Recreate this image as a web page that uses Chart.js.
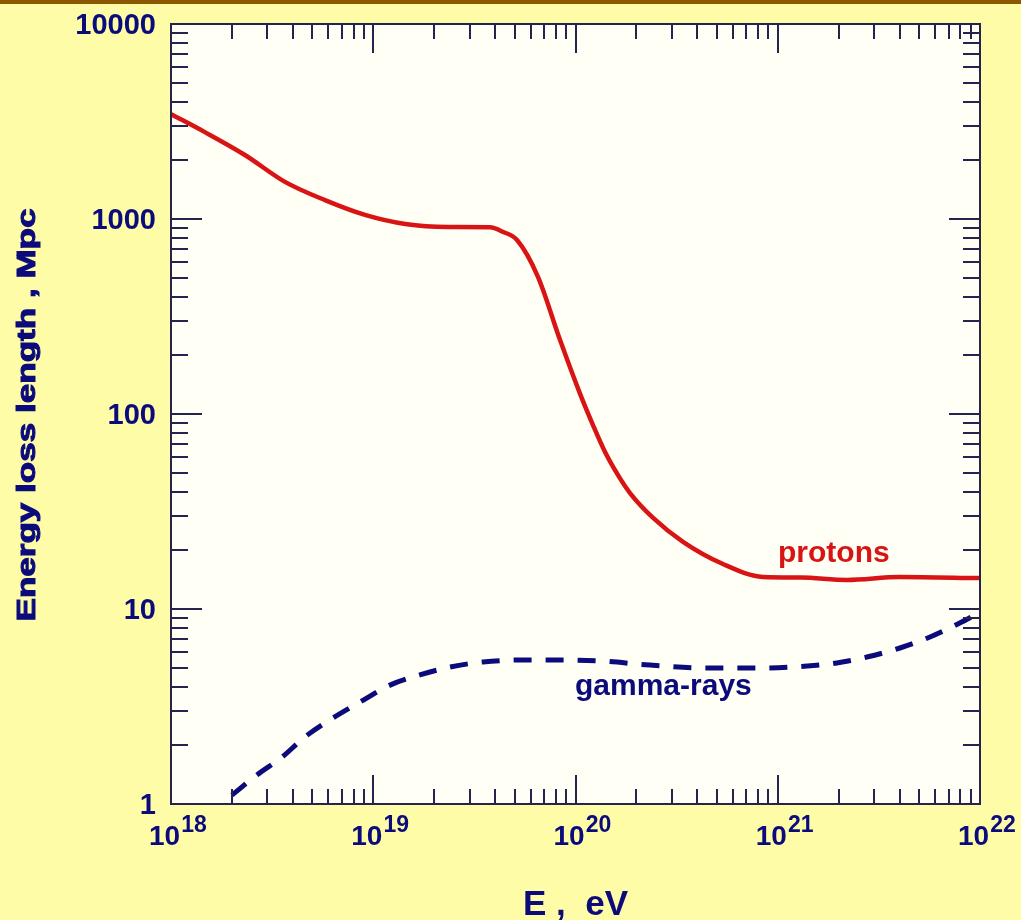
<!DOCTYPE html>
<html>
<head>
<meta charset="utf-8">
<title>Energy loss length</title>
<script src="https://cdn.jsdelivr.net/npm/chart.js@4/dist/chart.umd.min.js"></script>
<style>
  html, body { margin: 0; padding: 0; background: #fffca8; }
  canvas { display: block; }
</style>
</head>
<body>
<canvas id="lossChart" width="1021" height="920"></canvas>
<script>
// energy loss length (Mpc) against particle energy (eV)
const protonEnergy = [
  1.0e18, 1.47e18, 2.32e18, 3.66e18, 5.77e18, 9.10e18, 1.44e19, 2.34e19,
  3.78e19, 4.37e19, 5.14e19, 6.53e19, 8.38e19, 1.05e20, 1.22e20, 1.40e20,
  1.62e20, 1.86e20, 2.42e20, 3.40e20, 5.36e20, 8.45e20, 1.30e21, 2.20e21,
  4.00e21, 1.0e22
];
const protonLength = [
  3450, 2790, 2130, 1550, 1250, 1050, 943, 910,
  908, 860, 780, 504, 240, 128, 87.8, 63.8,
  48.7, 39.3, 29.3, 22.1, 17.0, 14.6, 14.5, 14.1,
  14.6, 14.4
];
const gammaEnergy = [
  2.0e18, 2.66e18, 3.54e18, 4.60e18, 6.31e18, 8.59e18, 1.21e19, 1.70e19,
  2.40e19, 3.49e19, 5.75e19, 1.32e20, 2.33e20, 4.47e20, 8.17e20, 1.40e21,
  1.96e21, 2.76e21, 4.02e21, 5.66e21, 7.94e21, 9.44e21
];
const gammaLength = [
  1.11, 1.41, 1.74, 2.21, 2.76, 3.33, 4.07, 4.59,
  5.04, 5.35, 5.48, 5.41, 5.16, 4.98, 4.98, 5.10,
  5.29, 5.67, 6.31, 7.18, 8.47, 9.31
];

// axis decades and their labels
const xDecades = [1e18, 1e19, 1e20, 1e21, 1e22];
const xExponents = ['18', '19', '20', '21', '22'];
const yDecades = [1, 10, 100, 1000, 10000];
const yTickLabels = ['1', '10', '100', '1000', '10000'];
const minorSteps = [2, 3, 4, 5, 6, 7, 8, 9];

const PAGE_BG = '#fffca8';
const PLOT_BG = '#fffff6';
const BAND = '#8b5800';
const AXIS = '#24244e';
const NAVY = '#0b0b7c';
const RED = '#d81414';
const FONT = '"Liberation Sans", Arial, Helvetica, sans-serif';

function toPoints(xs, ys) {
    return xs.map((x, i) => ({ x: x, y: ys[i] }));
}

/**
 * Background, inward tick marks, frame and all text.
 */
const framePlugin = {
    id: 'frame',
    beforeDraw(chart) {
        const { ctx, chartArea: a, width, height } = chart;
        ctx.save();
        ctx.fillStyle = PAGE_BG;
        ctx.fillRect(0, 0, width, height);
        ctx.fillStyle = BAND;
        ctx.fillRect(0, 0, width, 4);
        ctx.fillStyle = PLOT_BG;
        ctx.fillRect(a.left, a.top, a.right - a.left, a.bottom - a.top);
        ctx.restore();
    },
    afterDatasetsDraw(chart) {
        const { ctx, chartArea: a } = chart;
        const xs = chart.scales.x;
        const ys = chart.scales.y;

        ctx.save();
        ctx.strokeStyle = AXIS;
        ctx.lineWidth = 2;
        ctx.beginPath();

        // x ticks, bottom and top
        xDecades.forEach((d, i) => {
            const px = Math.round(xs.getPixelForValue(d));
            ctx.moveTo(px, a.bottom); ctx.lineTo(px, a.bottom - 29);
            ctx.moveTo(px, a.top); ctx.lineTo(px, a.top + 29);
            if (i === xDecades.length - 1) return;
            minorSteps.forEach(m => {
                const mx = Math.round(xs.getPixelForValue(d * m));
                ctx.moveTo(mx, a.bottom); ctx.lineTo(mx, a.bottom - 15);
                ctx.moveTo(mx, a.top); ctx.lineTo(mx, a.top + 15);
            });
        });

        // y ticks, left and right
        yDecades.forEach((d, i) => {
            const py = Math.round(ys.getPixelForValue(d));
            ctx.moveTo(a.left, py); ctx.lineTo(a.left + 31, py);
            ctx.moveTo(a.right, py); ctx.lineTo(a.right - 31, py);
            if (i === yDecades.length - 1) return;
            minorSteps.forEach(m => {
                const my = Math.round(ys.getPixelForValue(d * m));
                ctx.moveTo(a.left, my); ctx.lineTo(a.left + 17, my);
                ctx.moveTo(a.right, my); ctx.lineTo(a.right - 17, my);
            });
        });
        ctx.stroke();
        ctx.strokeRect(a.left, a.top, a.right - a.left, a.bottom - a.top);

        // y tick labels
        ctx.fillStyle = NAVY;
        ctx.font = 'bold 29px ' + FONT;
        ctx.textAlign = 'right';
        ctx.textBaseline = 'alphabetic';
        yDecades.forEach((d, i) => {
            ctx.fillText(yTickLabels[i], 156, ys.getPixelForValue(d) + 10);
        });

        // x tick labels as 10 with a raised exponent
        ctx.textAlign = 'left';
        xDecades.forEach((d, i) => {
            const px = xs.getPixelForValue(d);
            ctx.font = 'bold 28px ' + FONT;
            const w = ctx.measureText('10').width;
            ctx.fillText('10', px - 22, a.bottom + 41);
            ctx.font = 'bold 23px ' + FONT;
            ctx.fillText(xExponents[i], px - 22 + w + 1, a.bottom + 28);
        });

        // axis titles
        ctx.font = 'bold 35px ' + FONT;
        ctx.textAlign = 'center';
        ctx.fillText('E ,  eV', (a.left + a.right) / 2, 915);

        ctx.save();
        ctx.translate(35, 415);
        ctx.rotate(-Math.PI / 2);
        ctx.font = 'bold 25px ' + FONT;
        const tw = ctx.measureText('Energy loss length , Mpc').width;
        ctx.scale(413 / tw, 1);
        ctx.strokeStyle = NAVY;
        ctx.lineWidth = 1;
        ctx.fillText('Energy loss length , Mpc', 0, 0);
        ctx.strokeText('Energy loss length , Mpc', 0, 0);
        ctx.restore();

        // curve labels
        ctx.textAlign = 'left';
        ctx.font = 'bold 30px ' + FONT;
        ctx.fillStyle = RED;
        ctx.fillText('protons', 778, 562);
        ctx.fillStyle = NAVY;
        ctx.fillText('gamma-rays', 575, 695);

        ctx.restore();
    }
};

function initLossChart() {
    const canvas = document.getElementById('lossChart');
    if (!canvas) return;
    new Chart(canvas.getContext('2d'), {
        type: 'line',
        data: {
            datasets: [
                {
                    label: 'protons',
                    data: toPoints(protonEnergy, protonLength),
                    borderColor: RED,
                    borderWidth: 4.5,
                    pointRadius: 0,
                    cubicInterpolationMode: 'monotone',
                    fill: false
                },
                {
                    label: 'gamma-rays',
                    data: toPoints(gammaEnergy, gammaLength),
                    borderColor: NAVY,
                    borderWidth: 5,
                    borderDash: [18, 14],
                    pointRadius: 0,
                    cubicInterpolationMode: 'monotone',
                    fill: false
                }
            ]
        },
        options: {
            responsive: false,
            animation: false,
            devicePixelRatio: 1,
            layout: { padding: { left: 171, right: 41, top: 24, bottom: 116 } },
            plugins: { legend: { display: false }, tooltip: { enabled: false } },
            scales: {
                x: { type: 'logarithmic', min: 1e18, max: 1e22, display: false },
                y: { type: 'logarithmic', min: 1, max: 10000, display: false }
            }
        },
        plugins: [framePlugin]
    });
}

initLossChart();
</script>
</body>
</html>
